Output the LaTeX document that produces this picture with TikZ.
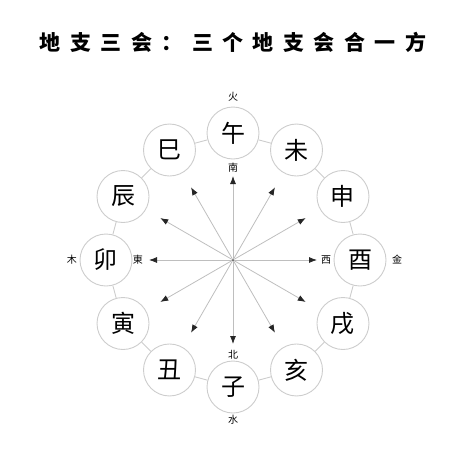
\documentclass[tikz,border=0pt]{standalone}
\usepackage{fontspec}
\usepackage{tikz}
\usetikzlibrary{arrows.meta}
\newfontfamily\cjk{Noto Sans CJK SC}
\definecolor{ringgray}{RGB}{205,205,205}
\definecolor{spokegray}{RGB}{190,190,190}

\begin{document}
\begin{tikzpicture}[x=1pt,y=1pt]
	\tikzstyle{branch}=[circle,draw=ringgray,line width=0.9pt,fill=white,minimum size=52pt,inner sep=0pt,font=\cjk\fontsize{24}{24}\selectfont]
	\tikzstyle{ring}=[draw=ringgray,line width=0.9pt]
	\tikzstyle{spoke}=[draw=spokegray,line width=0.8pt,-{Latex[length=8pt,width=6pt,color=black!85]}]
	\tikzstyle{dir}=[inner sep=0pt,font=\cjk\fontsize{10}{10}\selectfont]
	\useasboundingbox (-233,-196) rectangle (232,260);
	% title
	\node[inner sep=0pt,font=\cjk\bfseries\fontsize{21}{21}\selectfont\addfontfeatures{LetterSpace=45}](title) at (0,218) {地支三会：三个地支会合一方};
	% center
	\node[circle,fill=black!60,inner sep=0pt,minimum size=2.5pt](o) at (0,0) {};
	% spoke ends
	\coordinate (e1) at (90:84);
	\coordinate (e2) at (60:84);
	\coordinate (e3) at (30:84);
	\coordinate (e4) at (0:84);
	\coordinate (e5) at (-30:84);
	\coordinate (e6) at (-60:84);
	\coordinate (e7) at (-90:84);
	\coordinate (e8) at (-120:84);
	\coordinate (e9) at (-150:84);
	\coordinate (e10) at (180:84);
	\coordinate (e11) at (150:84);
	\coordinate (e12) at (120:84);
	\draw[spoke](o) -- (e1);
	\draw[spoke](o) -- (e2);
	\draw[spoke](o) -- (e3);
	\draw[spoke](o) -- (e4);
	\draw[spoke](o) -- (e5);
	\draw[spoke](o) -- (e6);
	\draw[spoke](o) -- (e7);
	\draw[spoke](o) -- (e8);
	\draw[spoke](o) -- (e9);
	\draw[spoke](o) -- (e10);
	\draw[spoke](o) -- (e11);
	\draw[spoke](o) -- (e12);
	% branches
	\node[branch](wu) at (90:127) {午};
	\node[branch](wei) at (60:127) {未};
	\node[branch](shen) at (30:127) {申};
	\node[branch](you) at (0:127) {酉};
	\node[branch](xu) at (-30:127) {戌};
	\node[branch](hai) at (-60:127) {亥};
	\node[branch](zi) at (-90:127) {子};
	\node[branch](chou) at (-120:127) {丑};
	\node[branch](yin) at (-150:127) {寅};
	\node[branch](mao) at (180:127) {卯};
	\node[branch](chen) at (150:127) {辰};
	\node[branch](si) at (120:127) {巳};
	\draw[ring](wu) -- (wei);
	\draw[ring](wei) -- (shen);
	\draw[ring](shen) -- (you);
	\draw[ring](you) -- (xu);
	\draw[ring](xu) -- (hai);
	\draw[ring](hai) -- (zi);
	\draw[ring](zi) -- (chou);
	\draw[ring](chou) -- (yin);
	\draw[ring](yin) -- (mao);
	\draw[ring](mao) -- (chen);
	\draw[ring](chen) -- (si);
	\draw[ring](si) -- (wu);
	% directions and elements
	\node[dir](nan) at (90:92) {南};
	\node[dir](huo) at (90:163) {火};
	\node[dir](xi) at (0:93) {西};
	\node[dir](jin) at (0:164) {金};
	\node[dir](bei) at (-90:95) {北};
	\node[dir](shui) at (-90:160) {水};
	\node[dir](dong) at (180:95) {東};
	\node[dir](mu) at (180:161) {木};
\end{tikzpicture}
\end{document}
